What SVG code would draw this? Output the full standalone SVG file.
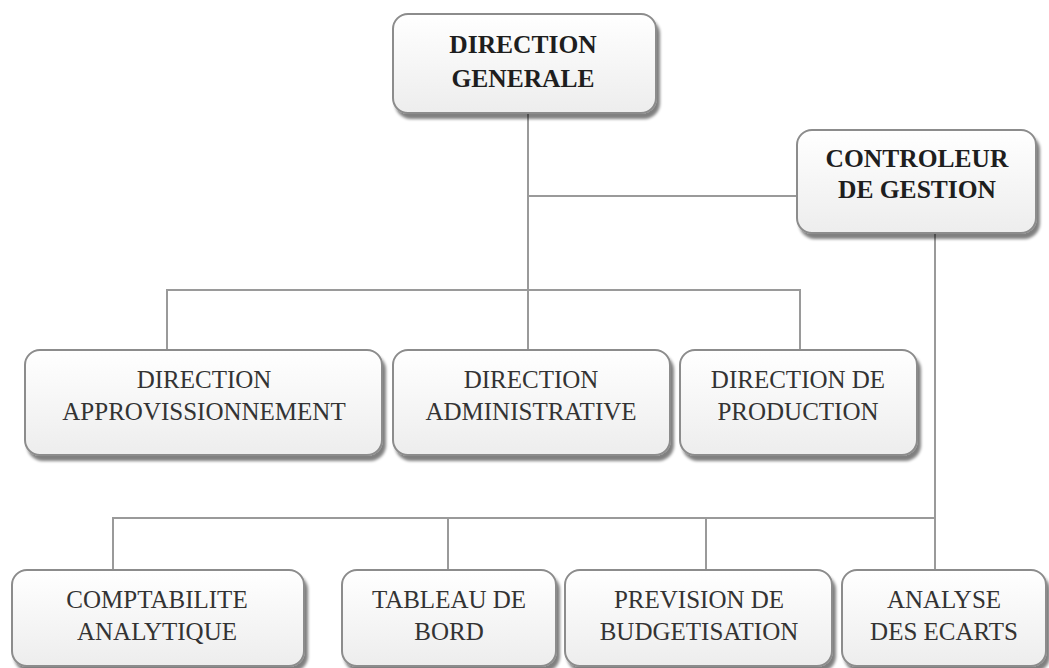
<svg xmlns="http://www.w3.org/2000/svg" width="1049" height="668" viewBox="0 0 1049 668">
<defs>
<linearGradient id="g" x1="0" y1="0" x2="0" y2="1">
<stop offset="0" stop-color="#ffffff"/>
<stop offset="1" stop-color="#ededed"/>
</linearGradient>
<filter id="sh" x="-10%" y="-10%" width="130%" height="140%">
<feGaussianBlur in="SourceAlpha" stdDeviation="1.5"/>
<feOffset dx="3" dy="5" result="b"/>
<feComponentTransfer><feFuncA type="linear" slope="0.5"/></feComponentTransfer>
<feMerge><feMergeNode/><feMergeNode in="SourceGraphic"/></feMerge>
</filter>
</defs>
<style>
.box{fill:url(#g);stroke:#8c8c8c;stroke-width:2;filter:url(#sh)}
.b{font-family:'Liberation Serif','Times New Roman','DejaVu Serif',serif;font-weight:bold;font-size:25.5px;fill:#1e1e1e;text-anchor:middle}
.r{font-family:'Liberation Serif','Times New Roman','DejaVu Serif',serif;font-size:25px;fill:#333333;text-anchor:middle}
.c{fill:none;stroke:#9a9a9a;stroke-width:2}
</style>
<rect width="1049" height="668" fill="#ffffff"/>
<g id="connectors" class="c">
<path d="M528 113V350M528 196H797M167 350V290H800V350"/>
<path d="M935 233V570M113 570V518H935M448 518V570M706 518V570"/>
</g>
<g id="dg"><rect class="box" x="393" y="14" width="263" height="99" rx="15"/>
<text class="b" x="523" y="53" font-size="28">DIRECTION</text><text class="b" x="523" y="87" font-size="28">GENERALE</text></g>
<g id="cg"><rect class="box" x="797" y="130" width="239" height="103" rx="15"/>
<text class="b" x="917" y="167">CONTROLEUR</text><text class="b" x="917" y="198">DE GESTION</text></g>
<g id="appro"><rect class="box" x="25" y="350" width="357" height="105" rx="15"/>
<text class="r" x="204" y="388">DIRECTION</text><text class="r" x="204" y="420">APPROVISSIONNEMENT</text></g>
<g id="admin"><rect class="box" x="393" y="350" width="277" height="105" rx="15"/>
<text class="r" x="531" y="388">DIRECTION</text><text class="r" x="531" y="420">ADMINISTRATIVE</text></g>
<g id="prod"><rect class="box" x="680" y="350" width="237" height="105" rx="15"/>
<text class="r" x="798" y="388">DIRECTION DE</text><text class="r" x="798" y="420">PRODUCTION</text></g>
<g id="compta"><rect class="box" x="12" y="570" width="292" height="96" rx="15"/>
<text class="r" x="157" y="608">COMPTABILITE</text><text class="r" x="157" y="640">ANALYTIQUE</text></g>
<g id="tableau"><rect class="box" x="342" y="570" width="214" height="96" rx="15"/>
<text class="r" x="449" y="608">TABLEAU DE</text><text class="r" x="449" y="640">BORD</text></g>
<g id="prev"><rect class="box" x="565" y="570" width="267" height="96" rx="15"/>
<text class="r" x="699" y="608">PREVISION DE</text><text class="r" x="699" y="640">BUDGETISATION</text></g>
<g id="analyse"><rect class="box" x="842" y="570" width="204" height="96" rx="15"/>
<text class="r" x="944" y="608">ANALYSE</text><text class="r" x="944" y="640">DES ECARTS</text></g>
</svg>
